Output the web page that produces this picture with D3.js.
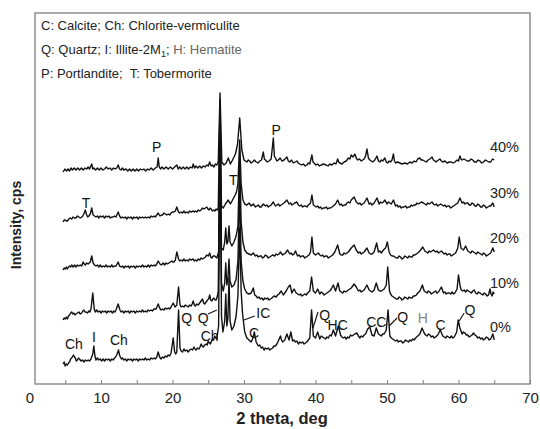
<!DOCTYPE html>
<html>
<head>
<meta charset="utf-8">
<script src="https://cdn.jsdelivr.net/npm/d3@7"></script>
<style>
  body { margin: 0; background: #fff; }
  text { font-family: "Liberation Sans", Arial, sans-serif; }
</style>
</head>
<body>
<div id="plotarea"></div>
<script>
// canvas and plot frame
var width = 540, height = 429;
var frame = {left: 35, right: 530, top: 13, bottom: 384};

// x axis ticks (2 theta, deg)
var xTicks = [0, 5, 10, 15, 20, 25, 30, 35, 40, 45, 50, 55, 60, 65, 70];

// replacement level of each pattern and its vertical offset (stacked plot)
var sampleLabels = ["0%", "10%", "20%", "30%", "40%"];
var offsets = [18, 63, 112, 160, 210];
var labelLevels = [52, 96, 141, 186, 232];

// patterns: [2theta, intensity above offset]
var pattern0 = [[4.7,2],[4.85,4],[5.0,0],[5.15,2],[5.3,1],[5.45,3],[5.6,4],[5.75,7],[5.9,8],[6.15,11],[6.3,9],[6.4,8],[6.55,5],[6.7,6],[6.85,8],[7.0,7],[7.2,5],[7.4,6],[7.6,4],[7.8,6],[8.0,5],[8.2,6],[8.4,5],[8.6,7],[8.85,12],[9.0,20],[9.15,10],[9.3,6],[9.5,8],[9.7,6],[9.9,7],[10.1,5],[10.3,7],[10.5,5],[10.7,7],[10.9,6],[11.1,7],[11.3,5],[11.5,7],[11.7,6],[11.9,8],[12.05,9],[12.2,11],[12.45,16],[12.6,11],[12.7,9],[12.85,7],[13.0,8],[13.2,6],[13.4,7],[13.6,5],[13.8,7],[14.0,6],[14.2,7],[14.4,5],[14.6,7],[14.8,6],[15.0,7],[15.2,5],[15.4,7],[15.6,6],[15.8,7],[16.0,6],[16.2,8],[16.4,6],[16.6,7],[16.8,6],[17.0,8],[17.2,7],[17.4,8],[17.6,7],[17.8,9],[18.0,14],[18.2,9],[18.4,7],[18.6,9],[18.8,8],[19.0,10],[19.2,9],[19.4,11],[19.6,10],[19.8,13],[20.1,28],[20.3,14],[20.45,12],[20.6,14],[20.85,56],[21.05,18],[21.2,15],[21.4,14],[21.6,17],[21.8,15],[22.0,16],[22.2,14],[22.4,16],[22.6,17],[22.8,16],[23.0,19],[23.15,17],[23.3,16],[23.5,18],[23.7,17],[23.85,19],[24.0,22],[24.15,20],[24.3,19],[24.5,21],[24.7,22],[24.85,21],[25.0,25],[25.15,23],[25.3,22],[25.45,25],[25.6,27],[25.75,26],[25.9,30],[26.05,28],[26.2,27],[26.45,40],[26.65,226],[26.85,50],[27.05,34],[27.3,45],[27.45,72],[27.6,40],[27.75,48],[27.9,88],[28.05,45],[28.3,36],[28.6,40],[28.9,50],[29.15,70],[29.4,138],[29.6,75],[29.8,52],[30.1,34],[30.4,28],[30.7,26],[31.0,24],[31.25,28],[31.45,34],[31.7,24],[32.0,20],[32.2,21],[32.4,18],[32.6,19],[32.8,16],[33.0,18],[33.2,17],[33.4,18],[33.6,16],[33.8,17],[34.0,18],[34.2,20],[34.4,20],[34.6,22],[34.8,25],[35.1,30],[35.25,26],[35.4,24],[35.55,25],[35.7,26],[36.0,32],[36.3,26],[36.55,34],[36.8,25],[37.0,26],[37.2,24],[37.4,25],[37.6,22],[37.8,24],[38.0,23],[38.2,24],[38.4,22],[38.6,23],[38.8,24],[39.0,26],[39.2,28],[39.45,56],[39.7,30],[40.0,28],[40.3,34],[40.6,27],[40.8,30],[41.0,29],[41.2,28],[41.4,27],[41.6,29],[41.8,28],[42.0,31],[42.2,30],[42.5,36],[42.8,30],[43.2,40],[43.5,31],[43.7,29],[43.9,28],[44.1,29],[44.3,27],[44.5,29],[44.7,28],[44.9,31],[45.1,30],[45.3,31],[45.5,32],[45.8,33],[46.0,30],[46.2,28],[46.4,30],[46.6,29],[46.8,31],[47.0,32],[47.3,37],[47.6,39],[47.9,31],[48.2,30],[48.5,38],[48.8,32],[49.0,31],[49.2,30],[49.4,32],[49.6,32],[49.9,36],[50.15,56],[50.4,30],[50.6,28],[50.8,27],[51.0,26],[51.2,25],[51.4,26],[51.6,24],[51.8,25],[52.0,25],[52.2,23],[52.4,24],[52.6,26],[52.8,25],[53.0,24],[53.2,26],[53.4,25],[53.6,27],[53.8,26],[54.0,28],[54.3,30],[54.6,32],[54.9,38],[55.2,33],[55.4,31],[55.6,30],[55.8,32],[56.0,31],[56.2,29],[56.4,30],[56.6,28],[56.8,29],[57.1,31],[57.45,36],[57.8,30],[58.0,29],[58.2,28],[58.4,30],[58.6,29],[58.8,28],[59.0,30],[59.2,28],[59.4,29],[59.75,34],[59.95,46],[60.2,38],[60.5,32],[60.7,34],[60.9,33],[61.1,31],[61.3,31],[61.5,29],[61.7,30],[61.9,31],[62.1,33],[62.3,31],[62.5,30],[62.7,28],[62.9,29],[63.1,27],[63.3,28],[63.5,26],[63.7,27],[63.9,29],[64.1,28],[64.3,26],[64.5,27],[64.8,32],[65.0,26]];

var pattern10 = [[4.7,1],[4.85,3],[5.0,2],[5.15,4],[5.3,2],[5.45,5],[5.6,6],[5.75,8],[5.9,9],[6.05,7],[6.2,8],[6.35,6],[6.5,7],[6.7,8],[6.9,9],[7.1,7],[7.3,8],[7.45,10],[7.6,11],[7.75,9],[7.9,9],[8.1,8],[8.3,10],[8.45,9],[8.6,12],[8.85,28],[9.05,12],[9.2,9],[9.4,11],[9.6,9],[9.8,10],[10.0,8],[10.2,10],[10.4,9],[10.6,10],[10.8,8],[11.0,10],[11.2,9],[11.4,10],[11.6,8],[11.8,10],[11.95,9],[12.1,11],[12.4,17],[12.65,11],[12.8,9],[13.0,10],[13.2,8],[13.4,10],[13.6,9],[13.8,10],[14.0,8],[14.2,10],[14.4,9],[14.6,10],[14.8,8],[15.0,10],[15.2,9],[15.4,10],[15.6,9],[15.8,11],[16.0,9],[16.2,10],[16.4,9],[16.6,11],[16.8,10],[17.0,11],[17.2,10],[17.4,12],[17.7,12],[18.0,17],[18.2,13],[18.4,11],[18.6,12],[18.8,11],[19.0,13],[19.2,12],[19.4,13],[19.6,12],[19.8,14],[20.1,18],[20.35,14],[20.6,16],[20.85,34],[21.05,16],[21.2,14],[21.4,15],[21.6,14],[21.8,16],[22.0,15],[22.2,14],[22.4,16],[22.6,15],[22.75,17],[22.9,20],[23.05,16],[23.2,15],[23.4,17],[23.6,16],[23.8,18],[24.0,20],[24.2,22],[24.35,18],[24.5,17],[24.7,19],[24.9,21],[25.05,22],[25.2,26],[25.35,21],[25.5,20],[25.65,22],[25.8,23],[25.95,21],[26.1,21],[26.25,24],[26.4,30],[26.65,201],[26.85,38],[27.1,30],[27.3,38],[27.45,58],[27.6,36],[27.75,42],[27.9,62],[28.05,40],[28.3,34],[28.6,36],[28.9,42],[29.15,60],[29.4,131],[29.6,60],[29.85,40],[30.1,32],[30.4,28],[30.7,27],[31.0,28],[31.3,33],[31.5,26],[31.7,25],[31.9,23],[32.1,24],[32.3,22],[32.5,23],[32.7,21],[32.9,23],[33.1,22],[33.3,23],[33.5,21],[33.7,22],[33.9,23],[34.2,25],[34.5,24],[34.7,26],[34.9,27],[35.2,30],[35.5,26],[35.7,28],[35.9,30],[36.2,34],[36.45,36],[36.7,28],[37.0,32],[37.3,28],[37.5,27],[37.7,26],[37.9,27],[38.1,25],[38.3,26],[38.5,27],[38.7,26],[38.9,28],[39.2,30],[39.45,44],[39.7,30],[40.0,28],[40.3,32],[40.6,27],[40.8,29],[41.0,28],[41.2,26],[41.4,27],[41.6,28],[41.8,29],[42.0,30],[42.2,32],[42.5,36],[42.8,30],[43.15,38],[43.4,30],[43.6,29],[43.8,28],[44.0,30],[44.2,29],[44.4,30],[44.6,31],[44.8,32],[45.0,33],[45.4,37],[45.7,34],[46.0,30],[46.2,31],[46.4,29],[46.6,30],[46.8,31],[47.2,36],[47.5,31],[47.7,30],[47.9,29],[48.2,31],[48.5,38],[48.8,31],[49.0,30],[49.2,30],[49.4,31],[49.6,32],[49.9,36],[50.1,54],[50.35,30],[50.5,27],[50.7,25],[50.9,24],[51.1,23],[51.3,22],[51.5,22],[51.7,24],[51.9,23],[52.1,21],[52.3,22],[52.5,24],[52.7,23],[52.9,22],[53.1,24],[53.3,23],[53.5,23],[53.7,25],[53.9,25],[54.1,26],[54.3,28],[54.6,30],[54.95,36],[55.2,30],[55.4,29],[55.6,28],[55.8,30],[56.0,29],[56.2,27],[56.4,28],[56.6,29],[56.8,30],[57.0,28],[57.2,29],[57.6,34],[57.9,28],[58.1,29],[58.3,27],[58.5,28],[58.7,28],[58.9,27],[59.1,29],[59.3,27],[59.5,28],[59.8,32],[60.0,46],[60.25,34],[60.4,31],[60.6,30],[60.8,31],[61.0,29],[61.2,31],[61.4,30],[61.6,29],[61.8,28],[62.0,30],[62.2,31],[62.4,28],[62.6,27],[62.8,29],[63.0,28],[63.2,27],[63.4,26],[63.6,28],[63.8,27],[64.0,25],[64.2,26],[64.4,32],[64.55,27],[64.7,25],[64.85,29],[65.0,27]];

var pattern20 = [[4.7,2],[4.85,4],[5.0,3],[5.15,5],[5.3,3],[5.45,5],[5.6,6],[5.75,5],[5.9,7],[6.1,5],[6.3,7],[6.5,5],[6.7,7],[6.9,6],[7.1,7],[7.3,6],[7.5,10],[7.65,8],[7.8,7],[8.0,9],[8.2,8],[8.35,9],[8.5,10],[8.7,16],[8.9,9],[9.1,7],[9.3,6],[9.5,7],[9.7,5],[9.9,7],[10.1,5],[10.3,6],[10.5,5],[10.7,7],[10.9,5],[11.1,6],[11.3,5],[11.5,7],[11.7,5],[11.9,6],[12.1,6],[12.4,10],[12.6,6],[12.8,5],[13.0,6],[13.2,4],[13.4,6],[13.6,5],[13.8,6],[14.0,4],[14.2,6],[14.4,5],[14.6,6],[14.8,4],[15.0,6],[15.2,5],[15.4,6],[15.6,5],[15.8,7],[16.0,5],[16.2,6],[16.4,5],[16.6,7],[16.8,5],[17.0,7],[17.2,6],[17.4,7],[17.6,6],[17.8,8],[18.0,11],[18.25,8],[18.45,7],[18.7,9],[18.9,7],[19.1,9],[19.3,8],[19.5,9],[19.7,10],[19.9,11],[20.05,10],[20.2,10],[20.4,12],[20.6,20],[20.85,13],[21.0,11],[21.2,12],[21.4,11],[21.6,13],[21.8,11],[22.0,12],[22.2,11],[22.4,13],[22.6,12],[22.9,13],[23.05,11],[23.2,12],[23.4,11],[23.6,13],[23.8,12],[24.0,14],[24.2,13],[24.4,14],[24.6,15],[24.8,17],[25.0,16],[25.2,19],[25.35,15],[25.5,14],[25.7,16],[25.9,16],[26.05,15],[26.2,14],[26.45,20],[26.65,162],[26.85,24],[27.1,22],[27.3,30],[27.45,44],[27.6,28],[27.75,30],[27.9,46],[28.05,30],[28.3,26],[28.6,30],[28.9,36],[29.15,46],[29.4,112],[29.6,50],[29.85,30],[30.1,22],[30.4,19],[30.7,18],[31.0,17],[31.3,19],[31.6,16],[31.8,17],[32.0,15],[32.2,16],[32.4,16],[32.6,14],[32.8,15],[33.0,17],[33.2,16],[33.4,14],[33.6,15],[33.8,16],[34.0,17],[34.3,16],[34.5,18],[34.7,17],[34.9,18],[35.1,20],[35.4,17],[35.6,18],[35.8,19],[36.1,22],[36.4,18],[36.6,19],[36.8,17],[37.0,18],[37.2,21],[37.5,16],[37.7,17],[37.9,15],[38.1,16],[38.3,16],[38.5,14],[38.7,15],[38.9,16],[39.1,17],[39.3,20],[39.5,35],[39.7,19],[40.0,17],[40.2,18],[40.4,19],[40.6,17],[40.8,16],[41.0,17],[41.2,15],[41.4,16],[41.6,16],[41.8,14],[42.0,15],[42.2,16],[42.4,17],[42.7,20],[43.1,27],[43.4,18],[43.6,17],[43.8,17],[44.0,19],[44.2,18],[44.4,19],[44.6,20],[44.8,22],[45.0,24],[45.4,27],[45.7,22],[46.0,19],[46.2,20],[46.4,18],[46.6,19],[46.8,20],[47.2,24],[47.5,19],[47.7,18],[47.9,18],[48.2,20],[48.55,29],[48.8,20],[49.0,21],[49.2,19],[49.5,22],[49.8,24],[50.05,30],[50.3,20],[50.5,17],[50.7,16],[50.9,16],[51.1,15],[51.3,14],[51.5,14],[51.7,16],[51.9,15],[52.1,13],[52.3,14],[52.5,16],[52.7,15],[52.9,14],[53.1,16],[53.3,15],[53.5,15],[53.7,17],[53.9,17],[54.1,18],[54.3,19],[54.7,22],[55.0,25],[55.3,21],[55.5,20],[55.7,19],[55.9,21],[56.1,20],[56.3,21],[56.5,22],[56.8,20],[57.0,21],[57.2,19],[57.4,20],[57.6,21],[58.0,18],[58.2,19],[58.4,17],[58.6,18],[58.8,18],[59.0,16],[59.2,17],[59.4,18],[59.6,19],[59.9,24],[60.1,35],[60.35,24],[60.5,23],[60.7,22],[61.0,26],[61.3,21],[61.5,20],[61.7,19],[61.9,21],[62.1,20],[62.3,19],[62.5,18],[62.7,20],[62.9,19],[63.1,18],[63.3,17],[63.5,19],[63.7,18],[63.9,16],[64.1,17],[64.3,18],[64.5,19],[64.8,24],[65.0,20]];

var pattern30 = [[4.7,2],[4.85,4],[5.0,4],[5.15,3],[5.3,3],[5.5,5],[5.7,6],[5.9,5],[6.1,7],[6.3,6],[6.5,6],[6.7,8],[6.9,7],[7.1,6],[7.3,7],[7.45,8],[7.6,10],[7.8,14],[8.0,9],[8.15,7],[8.3,8],[8.5,10],[8.7,16],[8.9,9],[9.1,8],[9.3,7],[9.5,8],[9.7,6],[9.9,8],[10.1,7],[10.3,8],[10.5,6],[10.7,8],[10.9,7],[11.1,8],[11.3,6],[11.5,7],[11.7,7],[11.9,8],[12.1,7],[12.4,12],[12.6,8],[12.8,6],[13.0,7],[13.2,6],[13.4,7],[13.6,5],[13.8,7],[14.0,6],[14.2,7],[14.4,5],[14.6,7],[14.8,6],[15.0,7],[15.2,5],[15.4,7],[15.6,6],[15.8,7],[16.0,6],[16.2,7],[16.4,6],[16.6,7],[16.8,6],[17.0,8],[17.2,7],[17.4,8],[17.6,7],[17.8,9],[18.0,11],[18.25,8],[18.45,9],[18.6,9],[18.8,11],[19.0,10],[19.2,9],[19.4,10],[19.6,9],[19.8,11],[20.0,12],[20.2,12],[20.4,13],[20.6,17],[20.85,12],[21.0,11],[21.2,12],[21.4,11],[21.6,13],[21.8,11],[22.0,12],[22.2,11],[22.4,13],[22.6,12],[22.9,13],[23.05,12],[23.2,13],[23.4,12],[23.6,14],[23.8,13],[24.0,14],[24.2,16],[24.4,15],[24.6,16],[24.8,17],[24.95,15],[25.1,14],[25.25,16],[25.4,15],[25.6,13],[25.8,14],[25.95,13],[26.1,15],[26.25,14],[26.4,16],[26.65,124],[26.85,18],[27.1,16],[27.4,20],[27.8,24],[28.1,20],[28.4,24],[28.7,28],[28.95,32],[29.15,40],[29.4,84],[29.6,40],[29.85,24],[30.1,20],[30.4,19],[30.7,21],[31.0,18],[31.3,20],[31.6,17],[31.8,18],[32.0,19],[32.2,17],[32.4,17],[32.7,20],[33.0,18],[33.2,19],[33.4,17],[33.6,18],[33.8,19],[34.1,22],[34.4,18],[34.6,19],[34.8,20],[35.0,18],[35.2,19],[35.4,20],[35.6,21],[36.0,24],[36.3,20],[36.5,21],[36.7,19],[36.9,20],[37.1,21],[37.4,22],[37.6,19],[37.8,18],[38.0,19],[38.2,17],[38.4,18],[38.6,18],[38.8,17],[39.0,19],[39.3,21],[39.5,29],[39.7,19],[39.9,18],[40.1,17],[40.3,18],[40.5,16],[40.7,17],[40.9,15],[41.1,16],[41.3,16],[41.5,17],[41.7,15],[41.9,16],[42.1,16],[42.3,17],[42.5,18],[42.8,20],[43.1,24],[43.4,19],[43.6,20],[43.8,18],[44.0,19],[44.2,19],[44.4,21],[44.6,22],[44.8,21],[45.0,24],[45.4,27],[45.7,22],[46.0,20],[46.2,21],[46.4,19],[46.6,20],[46.8,21],[47.2,26],[47.5,20],[47.7,21],[47.9,19],[48.2,21],[48.6,26],[48.9,20],[49.1,22],[49.3,21],[49.5,22],[49.7,24],[50.0,20],[50.2,22],[50.4,21],[50.6,20],[50.9,24],[51.2,18],[51.4,19],[51.6,17],[51.8,18],[52.0,16],[52.2,17],[52.4,17],[52.6,18],[52.8,16],[53.0,17],[53.2,17],[53.4,19],[53.6,18],[53.8,19],[54.0,19],[54.2,21],[54.4,20],[54.6,21],[54.8,22],[55.1,21],[55.3,20],[55.5,19],[55.7,21],[55.9,20],[56.1,21],[56.3,22],[56.5,20],[56.7,19],[56.9,20],[57.1,18],[57.3,19],[57.5,20],[57.7,19],[57.9,18],[58.1,19],[58.3,17],[58.5,18],[58.7,18],[58.9,16],[59.1,17],[59.3,18],[59.5,19],[59.7,20],[59.9,21],[60.2,26],[60.5,21],[60.7,22],[60.9,20],[61.1,21],[61.3,21],[61.5,19],[61.7,19],[61.9,21],[62.1,20],[62.3,18],[62.5,18],[62.7,20],[62.9,19],[63.1,17],[63.3,17],[63.5,19],[63.7,18],[63.9,16],[64.1,17],[64.3,18],[64.5,18],[64.8,21],[65.0,17]];

var pattern40 = [[4.7,2],[4.95,5],[5.2,3],[5.4,5],[5.6,3],[5.8,6],[6.0,4],[6.25,6],[6.5,4],[6.75,6],[7.0,4],[7.25,6],[7.5,4],[7.75,6],[8.0,5],[8.2,7],[8.4,5],[8.7,10],[8.85,5],[9.0,6],[9.25,4],[9.5,6],[9.75,4],[10,6],[10.25,4],[10.5,5],[10.75,7],[11,5],[11.25,6],[11.5,4],[11.75,6],[12,5],[12.2,6],[12.4,9],[12.6,5],[12.8,4],[13.0,6],[13.2,4],[13.5,5],[13.75,3],[14,5],[14.25,3],[14.5,5],[14.75,3],[15,5],[15.25,3],[15.5,5],[15.75,4],[16,5],[16.25,3],[16.5,5],[16.75,4],[17,6],[17.3,4],[17.6,6],[17.85,7],[18.0,16],[18.15,7],[18.35,5],[18.55,7],[18.8,5],[19.1,7],[19.4,5],[19.7,7],[20,5],[20.3,7],[20.6,9],[20.8,5],[21.0,7],[21.25,5],[21.5,7],[21.75,5],[22,7],[22.25,5],[22.5,7],[22.75,6],[22.9,10],[23.1,6],[23.3,8],[23.55,6],[23.8,8],[24.05,6],[24.3,8],[24.55,7],[24.8,9],[25.0,8],[25.2,12],[25.4,8],[25.6,9],[25.8,7],[26.0,10],[26.2,9],[26.4,12],[26.65,81],[26.9,12],[27.2,9],[27.5,11],[27.8,16],[28.1,10],[28.4,14],[28.8,20],[29.1,30],[29.4,56],[29.7,24],[30.0,14],[30.2,13],[30.4,12],[30.6,14],[30.8,13],[31.0,11],[31.2,12],[31.45,14],[31.7,12],[31.95,11],[32.2,13],[32.45,14],[32.7,22],[32.85,15],[33.0,14],[33.25,12],[33.5,13],[33.8,15],[34.1,36],[34.25,18],[34.4,16],[34.6,13],[34.8,14],[35.05,16],[35.3,13],[35.6,14],[36.0,17],[36.2,13],[36.4,12],[36.65,14],[36.9,11],[37.15,12],[37.4,13],[37.6,11],[37.8,10],[38.05,9],[38.3,10],[38.55,8],[38.8,9],[39.0,11],[39.2,10],[39.5,19],[39.65,12],[39.8,11],[40.05,9],[40.3,10],[40.55,8],[40.8,9],[41.1,10],[41.5,9],[41.75,8],[42.0,10],[42.3,9],[42.6,11],[42.85,10],[43.1,15],[43.25,12],[43.4,11],[43.7,10],[44.0,12],[44.3,13],[44.6,16],[44.8,15],[45.0,19],[45.25,17],[45.5,20],[45.7,16],[45.9,14],[46.15,15],[46.4,13],[46.6,14],[46.8,15],[47.0,18],[47.2,25],[47.4,16],[47.6,14],[47.8,13],[48.0,12],[48.3,14],[48.6,18],[48.8,13],[49.0,12],[49.2,14],[49.4,13],[49.7,16],[49.9,12],[50.1,11],[50.3,13],[50.5,12],[50.7,14],[50.9,20],[51.05,13],[51.2,11],[51.5,12],[51.8,11],[52.1,10],[52.5,11],[52.85,10],[53.2,12],[53.5,11],[53.8,13],[54.05,12],[54.3,15],[54.6,16],[54.8,14],[55.0,14],[55.25,13],[55.5,12],[55.75,14],[56.0,15],[56.3,17],[56.5,14],[56.7,13],[56.85,12],[57.0,13],[57.2,14],[57.4,15],[57.6,13],[57.8,12],[58.1,13],[58.4,11],[58.7,12],[59.0,12],[59.25,11],[59.5,12],[59.8,14],[60.0,13],[60.2,18],[60.35,15],[60.5,14],[60.75,15],[61.0,14],[61.25,13],[61.5,13],[61.75,15],[62,14],[62.25,12],[62.5,12],[62.75,14],[63,13],[63.25,11],[63.5,12],[63.75,14],[64,13],[64.25,12],[64.5,12],[64.75,15],[65.0,14]];

var patterns = [pattern0, pattern10, pattern20, pattern30, pattern40];

// phase marks: [2theta, intensity (absolute), text, colour]
var phaseLabels = [
  [6.2, 35, "Ch", "#111"], [9.0, 42, "I", "#111"], [12.5, 39, "Ch", "#111"],
  [22.0, 61, "Q", "#111"], [24.3, 61, "Q", "#111"], [25.2, 43, "Ch", "#111"],
  [32.7, 66, "IC", "#111"], [31.4, 46, "C", "#111"], [41.3, 64, "Q", "#111"],
  [43.1, 54, "HC", "#111"], [48.5, 57, "CC", "#111"], [52.2, 62, "Q", "#111"],
  [55.0, 61, "H", "#888"], [57.5, 54, "C", "#111"], [61.6, 69, "Q", "#111"],
  [7.9, 176, "T", "#111"], [28.5, 199, "T", "#111"],
  [17.8, 232, "P", "#111"], [34.5, 249, "P", "#111"]
];
// leader lines from labels to peaks: [2theta1, I1, 2theta2, I2]
var leaders = [
  [24.97, 70, 26.2, 74], [31.5, 68, 30.0, 64], [40.35, 72, 39.65, 56],
  [51.4, 66, 50.3, 58], [60.8, 71, 60.1, 63]
];

var legendLines = ["C: Calcite; Ch: Chlorite-vermiculite", "Q: Quartz; I: Illite-2M", "P: Portlandite;\u00a0 T: Tobermorite"];

var svg = d3.select("#plotarea")
  .append("svg")
    .attr("width", width)
    .attr("height", height);

var x = d3.scaleLinear().domain([0, 70]).range([29.5, 530]);
var y = d3.scaleLinear().domain([0, 371]).range([384, 13]);

// frame
svg.append("rect")
  .attr("x", frame.left).attr("y", frame.top)
  .attr("width", frame.right - frame.left)
  .attr("height", frame.bottom - frame.top)
  .attr("fill", "none").attr("stroke", "#808080").attr("stroke-width", 1.3);

// bottom axis with inward ticks
var xAxis = svg.append("g")
  .attr("transform", "translate(0," + frame.bottom + ")")
  .call(d3.axisBottom(x).tickValues(xTicks).tickSize(-4).tickPadding(8)
    .tickFormat(function (d) { return d % 10 === 0 ? d : ""; }));
xAxis.select(".domain").remove();
xAxis.selectAll(".tick line").attr("stroke", "#808080")
  .style("display", function (d) { return d === 0 ? "none" : null; });
xAxis.selectAll(".tick text")
  .attr("font-size", 15).attr("fill", "#222")
  .style("font-family", "'Liberation Sans', Arial, sans-serif");

// traces
var line = d3.line()
  .x(function (d) { return x(d[0]); })
  .y(function (d) { return y(d[1]); });

patterns.forEach(function (p, i) {
  svg.append("path")
    .datum(p.map(function (d) { return [d[0], d[1] + offsets[i]]; }))
    .attr("d", line)
    .attr("fill", "none")
    .attr("stroke", "#111")
    .attr("stroke-width", 1.4)
    .attr("stroke-linejoin", "round");
});

// sample labels
svg.selectAll(".samp")
  .data(sampleLabels)
  .enter()
  .append("text")
    .attr("x", x(64.4))
    .attr("y", function (d, i) { return y(labelLevels[i]); })
    .attr("font-size", 14.5)
    .attr("fill", "#222")
    .text(function (d) { return d; });

// phase labels
svg.selectAll(".phase")
  .data(phaseLabels)
  .enter()
  .append("text")
    .attr("x", function (d) { return x(d[0]); })
    .attr("y", function (d) { return y(d[1]); })
    .attr("text-anchor", "middle")
    .attr("font-size", 14)
    .attr("fill", function (d) { return d[3]; })
    .text(function (d) { return d[2]; });

svg.selectAll(".leader")
  .data(leaders)
  .enter()
  .append("line")
    .attr("x1", function (d) { return x(d[0]); })
    .attr("y1", function (d) { return y(d[1]); })
    .attr("x2", function (d) { return x(d[2]); })
    .attr("y2", function (d) { return y(d[3]); })
    .attr("stroke", "#111")
    .attr("stroke-width", 1.1);

// legend text in the top-left corner
var leg = svg.append("g").attr("font-size", 13).attr("fill", "#222");
leg.append("text").attr("x", 41).attr("y", 30).text(legendLines[0]);
var l2 = leg.append("text").attr("x", 41).attr("y", 54);
l2.append("tspan").text(legendLines[1]);
l2.append("tspan").attr("font-size", 9).attr("dy", 3).text("1");
l2.append("tspan").attr("dy", -3).text("; ");
l2.append("tspan").attr("fill", "#666").text("H: Hematite");
leg.append("text").attr("x", 41).attr("y", 78).text(legendLines[2]);

// axis titles
svg.append("text")
  .attr("x", 282).attr("y", 424)
  .attr("text-anchor", "middle")
  .attr("font-size", 16.5).attr("font-weight", "bold").attr("fill", "#222")
  .text("2 theta, deg");

svg.append("text")
  .attr("transform", "translate(21,225) rotate(-90)")
  .attr("text-anchor", "middle")
  .attr("font-size", 14).attr("font-weight", "bold").attr("fill", "#222")
  .text("Intensity, cps");
</script>
</body>
</html>
